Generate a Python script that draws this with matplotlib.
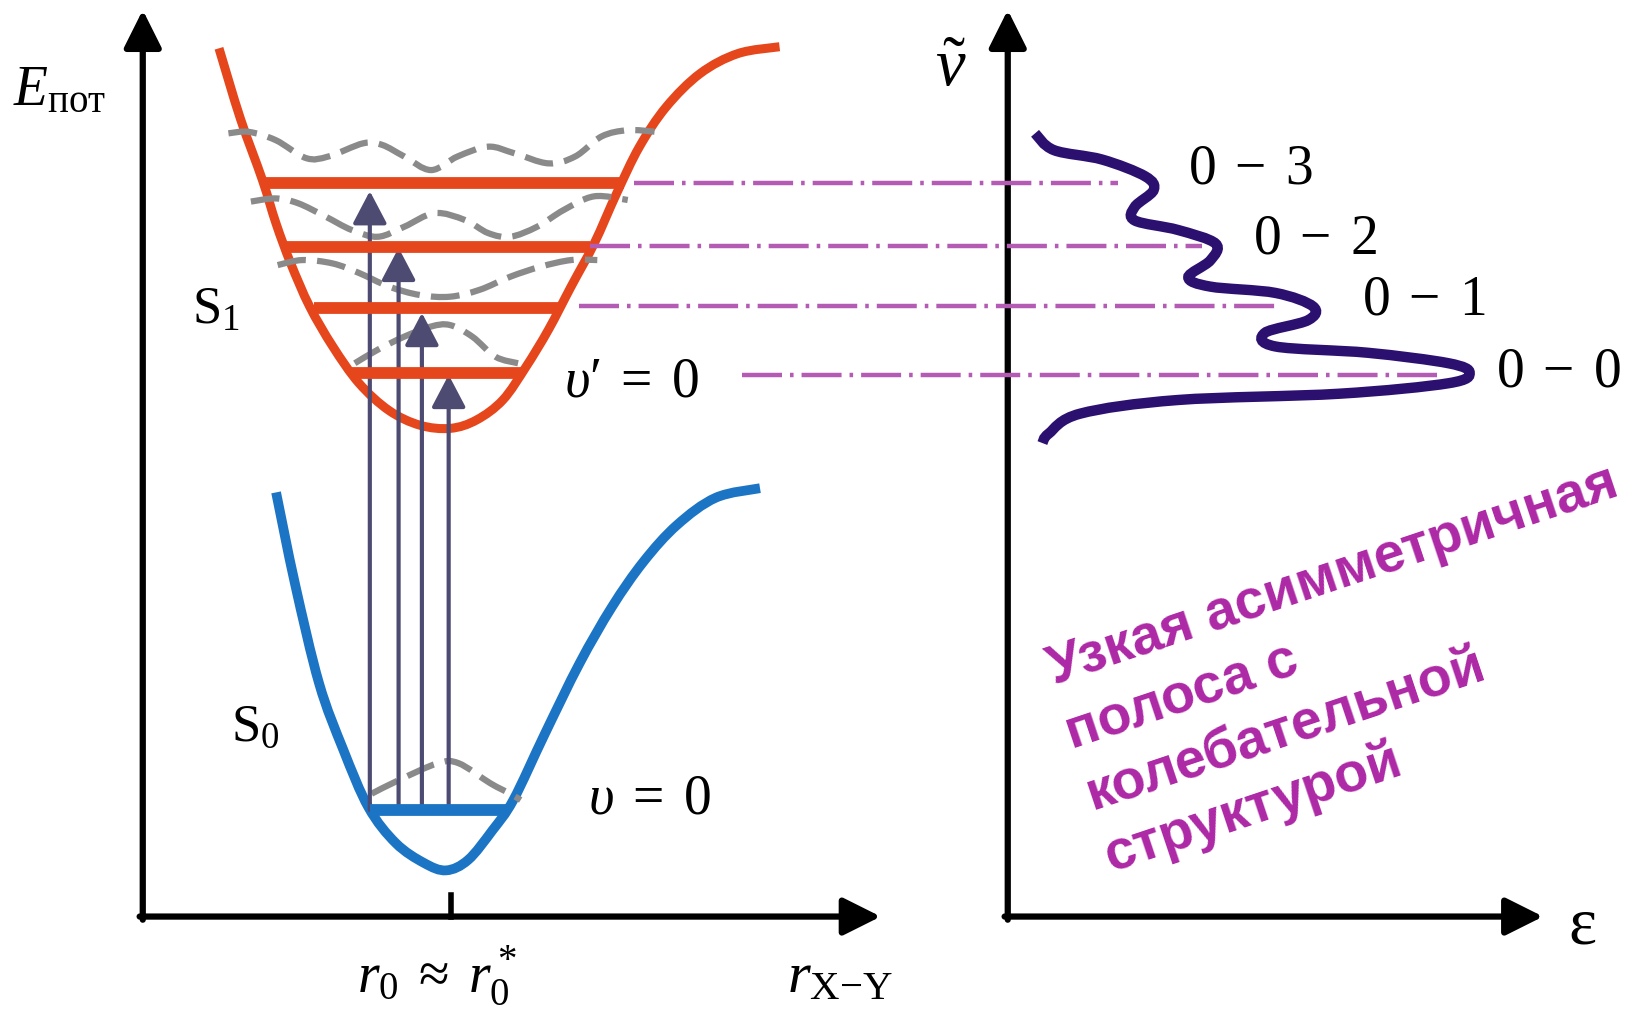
import numpy as np
import matplotlib
matplotlib.use("Agg")
import matplotlib.pyplot as plt
from matplotlib.path import Path
from matplotlib.patches import PathPatch, FancyArrowPatch, ArrowStyle

plt.rcParams['mathtext.fontset'] = 'custom'
plt.rcParams['mathtext.rm'] = 'Liberation Serif'
plt.rcParams['mathtext.it'] = 'Liberation Serif:italic'
plt.rcParams['mathtext.bf'] = 'Liberation Serif:bold'

# S1 potential curve (excited state)
s1_x = [208.6, 229, 250, 263, 277, 295, 317, 342, 370.6, 400, 429, 454, 479, 501,
        522.5, 544, 566, 587.5, 609, 634.5, 667, 703, 742.6]
s1_y = [46, 113, 171.5, 213, 251, 292, 330, 365, 391, 405, 408, 400, 381, 349.5,
        314, 273, 232, 184, 140, 102, 70, 51, 44.5]

# S0 potential curve (ground state)
s0_x = [263, 281, 304, 327, 351, 377, 404, 425, 446, 469, 489, 519, 552, 583, 613, 645, 682, 724]
s0_y = [469, 556, 651, 714, 769, 803, 822, 829, 819, 791, 762, 699, 632, 578, 535, 500, 474, 465]

# vibrational levels of S1
level_y = [174.6, 235, 293.4, 355.6]
level_x0 = [252, 271.6, 298.8, 335]
level_x1 = [594.5, 562, 533.3, 497.3]

# v = 0 level of S0
ground_y = 771.6
ground_x0, ground_x1 = 352, 485

# wavefunctions (grey dashed)
waves = [
    ([217.6, 237, 262.7, 291.6, 313, 346, 364, 385, 410.6, 436, 465, 490, 522.5, 548, 573, 598, 623.5],
     [127, 125.6, 133.5, 150.6, 149, 136.5, 138, 149, 162, 149, 139.7, 146, 155.6, 149, 130, 124, 125.4]),
    ([239, 262.7, 284, 309.6, 334.9, 360, 385, 414, 443, 465, 486, 511.6, 537, 566, 598],
     [192, 189, 193.6, 206, 219, 225.5, 216, 203, 209.6, 222, 225.5, 216, 200, 187, 190.5]),
    ([264.5, 288, 316.8, 342, 370.6, 400, 428.7, 457, 486, 515, 544, 569],
     [252.5, 247.7, 250.9, 260, 273, 281, 282.6, 276, 263.6, 254, 247.7, 247.7]),
    ([338, 360, 385, 410.6, 428.7, 450, 472, 493.5],
     [346, 333, 320.7, 311, 309.6, 320.7, 339.8, 346]),
    ([354, 380, 417, 437, 467, 486, 496],
     [756, 743, 727, 727, 746, 756, 762]),
]

# absorption transitions
arrow_x = [352.3, 379.7, 401.9, 427.4]
arrow_tip = [182, 236, 298, 357]

# projection lines to the spectrum
proj_y = [174.6, 234, 291.5, 357]
proj_x0 = [603.7, 562, 551.4, 706.6]
proj_x1 = [1065, 1145, 1214.6, 1369]

# absorption band
spec_x = [986, 1004, 1050, 1091, 1099, 1081, 1081, 1122, 1158, 1153, 1132, 1153, 1215, 1251,
          1246, 1205, 1215, 1303, 1380, 1400, 1380, 1276, 1122, 1029, 999, 993]
spec_y = [127, 143, 152, 168, 181, 197, 210, 219, 232, 248, 264, 273, 279, 292,
          305, 317, 330, 336, 346, 355, 365, 375, 381, 394, 413, 422]

band_labels = [r"$0\;-\;3$", r"$0\;-\;2$", r"$0\;-\;1$", r"$0\;-\;0$"]
band_pos = [(1132, 175), (1194, 241), (1297, 300), (1425, 368)]

note_lines = ["Узкая асимметричная", "полоса с", "колебательной", "структурой"]
note_pos = [(1004, 652), (1021, 714), (1040, 772), (1058, 830)]

ORANGE = '#E6461C'
BLUE = '#1C74C4'
GREY = '#8A8A8A'
ARROW = '#4E4B72'
PROJ = '#B45CB4'
SPEC = '#2C1070'
NOTE = '#AD28A5'


def smooth(xs, ys):
    p = np.column_stack([xs, ys]).astype(float)
    ext = np.vstack([p[0], p, p[-1]])
    verts = [p[0]]
    codes = [Path.MOVETO]
    for i in range(1, len(ext) - 2):
        p0, p1, p2, p3 = ext[i - 1], ext[i], ext[i + 1], ext[i + 2]
        verts += [p1 + (p2 - p0) / 6, p2 - (p3 - p1) / 6, p2]
        codes += [Path.CURVE4] * 3
    return Path(verts, codes)


fig = plt.figure(figsize=(16.46, 10.10), dpi=100)
ax = fig.add_axes([0, 0, 1, 1])
ax.set_xlim(0, 1568)
ax.set_ylim(962, 0)
ax.axis('off')


def axis_arrow(p0, p1):
    ax.add_patch(FancyArrowPatch(p0, p1, arrowstyle=ArrowStyle('-|>', head_length=23, head_width=11.5),
                                 mutation_scale=1, lw=4.5, color='black', shrinkA=0, shrinkB=0))


axis_arrow((136, 876), (136, 9.5))
axis_arrow((133, 873), (839, 873))
axis_arrow((960, 876), (960, 9.5))
axis_arrow((957, 873), (1470, 873))
ax.plot([430, 430], [852, 873], color='black', lw=4)

# potential curves
ax.add_patch(PathPatch(smooth(s1_x, s1_y), fill=False, color=ORANGE, lw=6.5, capstyle='butt'))
ax.add_patch(PathPatch(smooth(s0_x, s0_y), fill=False, color=BLUE, lw=7, capstyle='butt'))

for wx, wy in waves:
    ax.add_patch(PathPatch(smooth(wx, wy), fill=False, color=GREY, lw=4.5,
                           linestyle=(0, (4.6, 1.8))))

for y, x0, x1 in zip(level_y, level_x0, level_x1):
    ax.plot([x0, x1], [y, y], color=ORANGE, lw=8.5, solid_capstyle='butt')
ax.plot([ground_x0, ground_x1], [ground_y, ground_y], color=BLUE, lw=8.5, solid_capstyle='butt')

for x, tip in zip(arrow_x, arrow_tip):
    ax.add_patch(FancyArrowPatch((x, ground_y), (x, tip),
                                 arrowstyle=ArrowStyle('-|>', head_length=20, head_width=10.5),
                                 mutation_scale=1, lw=3, color=ARROW, shrinkA=0, shrinkB=0))

for y, x0, x1 in zip(proj_y, proj_x0, proj_x1):
    ax.plot([x0, x1], [y, y], color=PROJ, lw=3.2, linestyle=(0, (9, 1.8, 0.8, 1.8)))

ax.add_patch(PathPatch(smooth(spec_x, spec_y), fill=False, color=SPEC, lw=7.5, capstyle='butt'))

# labels
ax.text(12, 100, r'$E_{\mathrm{пот}}$', fontsize=40, va='baseline')
ax.text(891, 82, r'$\tilde{\nu}$', fontsize=48, va='baseline')
ax.text(183, 308, r'$\mathrm{S}_1$', fontsize=38, va='baseline')
ax.text(220, 706, r'$\mathrm{S}_0$', fontsize=38, va='baseline')
ax.text(537, 378, r"$\upsilon\mathrm{′}\;=\;0$", fontsize=40, va='baseline')
ax.text(560, 775, r"$\upsilon\;=\;0$", fontsize=40, va='baseline')
ax.text(340, 945, r'$r_0\;\approx\;r_0^*$', fontsize=40, va='baseline')
ax.text(750, 945, r'$r_{\mathrm{X{-}Y}}$', fontsize=42, va='baseline')
ax.text(1494, 899, 'ε', fontsize=48, family='Liberation Serif', va='baseline')

for lab, (x, y) in zip(band_labels, band_pos):
    ax.text(x, y, lab, fontsize=40, va='baseline')

for line, (x, y) in zip(note_lines, note_pos):
    ax.text(x, y, line, fontsize=40, family='Liberation Sans', weight='bold', color=NOTE,
            rotation=18.5, rotation_mode='anchor', ha='left', va='baseline')

fig.savefig('out.png', dpi=100)
